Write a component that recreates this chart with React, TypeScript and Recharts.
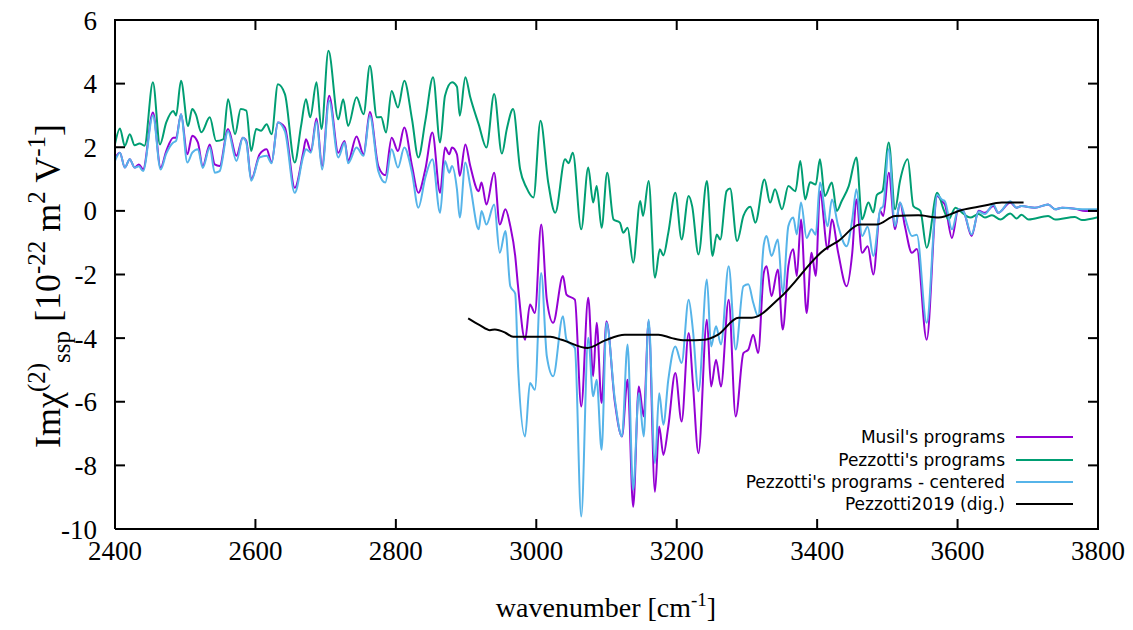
import { LineChart, Line, XAxis, YAxis } from 'recharts';

// Wavenumbers (cm^-1) and Im chi(2)_ssp values
const musilWn = [2400, 2407, 2414, 2421, 2428, 2434, 2440, 2454, 2465, 2473, 2483, 2487, 2494, 2503, 2510, 2518, 2525, 2535, 2542, 2549, 2561, 2573, 2582, 2587, 2594, 2606, 2616, 2623, 2632, 2642, 2656, 2668, 2672, 2679, 2687, 2695, 2705, 2718, 2727, 2732, 2744, 2754, 2763, 2775, 2785, 2794, 2803, 2812, 2823, 2832, 2842, 2852, 2863, 2870, 2876, 2880, 2887, 2891, 2899, 2906, 2918, 2922, 2929, 2940, 2948, 2956, 2963, 2970, 2974, 2984, 2991, 2998, 3007, 3015, 3024, 3038, 3043, 3055, 3064, 3074, 3081, 3086, 3093, 3100, 3112, 3122, 3130, 3138, 3146, 3153, 3160, 3169, 3175, 3181, 3188, 3198, 3207, 3217, 3223, 3231, 3243, 3249, 3256, 3263, 3274, 3284, 3295, 3302, 3309, 3316, 3324, 3328, 3335, 3344, 3351, 3359, 3366, 3371, 3377, 3385, 3392, 3398, 3404, 3415, 3421, 3430, 3442, 3450, 3456, 3464, 3472, 3480, 3490, 3494, 3502, 3511, 3518, 3525, 3535, 3542, 3556, 3571, 3578, 3582, 3592, 3601, 3608, 3620, 3630, 3639, 3651, 3658, 3675, 3684, 3691, 3710, 3729, 3739, 3749, 3767, 3782, 3800];
const musilVal = [1.67, 1.83, 1.36, 1.62, 1.36, 1.46, 1.31, 3.09, 1.36, 1.88, 2.3, 2.3, 3.04, 1.78, 2.36, 2.15, 1.41, 2.09, 1.46, 1.41, 2.57, 1.73, 2.3, 2.2, 0.99, 1.78, 1.94, 1.52, 2.78, 2.62, 0.73, 1.83, 2.25, 1.88, 2.9, 1.41, 3.62, 1.83, 2.2, 1.57, 2.34, 1.78, 3.11, 1.41, 1.12, 2.3, 1.88, 2.62, 1.41, 0.57, 1.31, 2.46, 0.57, 1.99, 1.78, 1.99, 1.78, 1.1, 2.09, 1.41, 0.62, 0.89, 0.2, 1.2, -0.43, 0.05, -0.48, -1.42, -2.37, -4.05, -2.94, -3.21, -0.43, -2.79, -3.52, -2.05, -2.63, -2.79, -6.15, -2.73, -5.2, -3.52, -6.04, -3.47, -6.03, -7.09, -5.31, -9.3, -5.52, -6.46, -3.47, -8.83, -6.78, -7.67, -6.78, -5.1, -6.62, -3.84, -5.41, -7.62, -3.42, -5.52, -4.68, -5.52, -2.79, -6.46, -4.47, -4.36, -3.89, -4.47, -1.95, -1.74, -2.68, -1.84, -3.73, -1.74, -1.21, -2.05, -0.27, -3.21, -1.32, -2.05, 0.62, -1.21, -0.27, -1.32, -2.37, -1.32, 0.36, -1.32, -1.11, -2.0, 0.0, -0.16, 1.2, -0.58, 0.26, -0.48, -1.32, -1.2, -4.05, 0.47, 0.3, 0.2, -0.85, 0.05, 0.0, -0.79, 0.0, -0.06, 0.15, -0.06, 0.26, 0.1, 0.15, 0.1, 0.2, 0.05, 0.1, 0.07, 0.0, 0.0];

const pezWn = [2400, 2407, 2414, 2421, 2428, 2435, 2442, 2454, 2464, 2473, 2483, 2487, 2494, 2504, 2510, 2515, 2523, 2535, 2544, 2554, 2561, 2571, 2579, 2587, 2594, 2601, 2608, 2616, 2623, 2632, 2642, 2656, 2665, 2672, 2678, 2687, 2694, 2704, 2718, 2725, 2732, 2744, 2754, 2763, 2773, 2779, 2786, 2794, 2803, 2812, 2823, 2832, 2842, 2853, 2863, 2870, 2880, 2887, 2891, 2899, 2906, 2918, 2929, 2940, 2951, 2958, 2967, 2977, 2986, 2996, 3006, 3017, 3027, 3041, 3046, 3052, 3064, 3074, 3081, 3086, 3093, 3101, 3110, 3119, 3124, 3130, 3138, 3148, 3152, 3160, 3169, 3176, 3181, 3188, 3198, 3207, 3217, 3222, 3231, 3243, 3251, 3257, 3262, 3271, 3276, 3286, 3295, 3305, 3312, 3325, 3333, 3340, 3350, 3359, 3369, 3376, 3383, 3390, 3398, 3404, 3411, 3421, 3428, 3435, 3445, 3456, 3464, 3473, 3480, 3485, 3493, 3502, 3511, 3518, 3529, 3537, 3547, 3556, 3571, 3580, 3587, 3597, 3606, 3618, 3630, 3639, 3649, 3661, 3675, 3684, 3691, 3701, 3729, 3739, 3767, 3777, 3800];
const pezVal = [2.1, 2.59, 2.04, 2.41, 2.06, 2.12, 2.05, 4.04, 2.09, 2.78, 3.14, 3.0, 4.09, 2.67, 3.2, 3.04, 2.47, 2.94, 2.2, 2.25, 3.51, 2.41, 3.2, 3.15, 1.88, 2.57, 2.52, 2.72, 2.41, 3.98, 3.67, 1.52, 2.67, 3.51, 2.94, 4.04, 2.57, 5.03, 2.88, 3.51, 2.67, 3.57, 3.04, 4.56, 2.94, 2.95, 2.46, 3.77, 3.25, 4.09, 2.88, 1.68, 2.83, 4.2, 2.15, 3.62, 4.04, 3.9, 2.99, 4.2, 3.57, 2.72, 1.99, 3.67, 1.8, 2.57, 3.2, 1.31, 0.73, 0.42, 2.83, 0.89, -0.06, 1.62, 1.5, 1.83, -0.58, 1.36, 0.26, 0.78, -0.53, 1.2, -0.27, -0.37, -0.69, -0.53, -1.63, 0.31, -0.16, 0.94, -2.1, -1.21, -1.4, -0.69, 0.57, -0.9, 0.47, 0.15, -1.37, 0.94, -1.42, -0.74, -0.9, 0.62, 0.7, -0.95, -0.16, 0.13, -0.37, 0.99, 0.26, 0.68, 0.05, 0.78, 0.62, 1.57, 0.36, 0.9, 0.83, 1.62, 0.47, 0.89, 0.0, 0.31, 0.78, 1.68, -0.27, 0.26, -0.05, 0.5, 0.62, 2.15, 0.05, 0.94, 1.62, 0.15, 0.0, -1.16, 0.57, 0.05, -0.27, 0.1, -0.05, -0.21, -0.1, -0.21, -0.14, -0.27, -0.08, -0.24, -0.12, -0.27, -0.16, -0.27, -0.19, -0.29, -0.2];

const centWn = musilWn;
const centVal = [1.57, 1.83, 1.36, 1.62, 1.36, 1.4, 1.25, 3.0, 1.3, 1.8, 2.15, 2.2, 3.04, 1.52, 1.83, 1.94, 1.35, 2.0, 1.2, 1.25, 2.5, 1.57, 2.3, 2.15, 0.95, 1.68, 1.73, 1.5, 2.78, 2.5, 0.57, 1.7, 1.94, 1.83, 2.8, 1.3, 3.46, 1.68, 2.15, 1.5, 1.99, 1.73, 2.99, 1.25, 0.89, 1.94, 1.36, 1.99, 1.2, 0.1, 1.05, 1.62, -0.06, 1.57, 1.2, 1.41, 0.68, -0.21, 1.52, 0.78, -0.58, 0.0, -0.43, 0.2, -1.32, -0.63, -2.37, -2.6, -4.89, -7.09, -5.41, -5.62, -1.95, -4.57, -5.2, -3.31, -4.05, -4.31, -9.61, -3.99, -5.83, -5.31, -7.51, -3.52, -5.94, -7.09, -4.2, -8.77, -5.73, -7.09, -3.42, -7.93, -5.73, -6.72, -5.31, -4.26, -4.78, -2.79, -3.73, -5.67, -2.16, -4.26, -3.63, -4.2, -1.74, -4.36, -2.37, -2.31, -2.89, -3.31, -1.06, -0.79, -1.42, -0.9, -2.58, -0.48, -0.21, -0.74, 0.26, -0.85, -0.58, -0.75, 0.89, -0.48, 0.36, -0.48, -1.11, -0.27, 0.68, -0.79, -0.5, -1.42, 0.05, 0.15, 1.94, -0.48, 0.26, -0.2, -0.79, -0.75, -3.52, 0.5, 0.35, 0.3, -0.58, 0.05, 0.0, -0.74, -0.02, -0.1, 0.2, -0.06, 0.3, 0.1, 0.15, 0.1, 0.2, 0.05, 0.1, 0.07, 0.05, 0.05];

const digWn = [2903, 2920, 2934, 2941, 2956, 2967, 3020, 3036, 3073, 3098, 3126, 3174, 3193, 3212, 3240, 3259, 3288, 3307, 3347, 3411, 3430, 3461, 3485, 3511, 3544, 3573, 3606, 3635, 3663, 3694];
const digVal = [-3.38, -3.6, -3.75, -3.73, -3.83, -3.96, -3.96, -4.05, -4.31, -4.07, -3.89, -3.89, -4.0, -4.07, -4.05, -3.89, -3.36, -3.36, -2.73, -1.21, -0.95, -0.43, -0.43, -0.16, -0.14, -0.21, 0.03, 0.15, 0.26, 0.26];

const xTicks = [2400, 2600, 2800, 3000, 3200, 3400, 3600, 3800];
const yTicks = [-10, -8, -6, -4, -2, 0, 2, 4, 6];

const toPoints = (wn: number[], vals: number[]) => wn.map((x, i) => ({ x, y: vals[i] }));

const series = [
  { name: "Musil's programs", color: '#9400d3', data: toPoints(musilWn, musilVal) },
  { name: "Pezzotti's programs", color: '#009e73', data: toPoints(pezWn, pezVal) },
  { name: "Pezzotti's programs - centered", color: '#56b4e9', data: toPoints(centWn, centVal) },
  { name: 'Pezzotti2019 (dig.)', color: '#000000', data: toPoints(digWn, digVal) },
];

const W = 1133;
const H = 630;
const MARGIN = { top: 20, right: 35, bottom: 0, left: 0 };
const Y_AXIS_W = 115;
const X_AXIS_H = 101;
const PLOT_TOP = MARGIN.top;
const PLOT_RIGHT = W - MARGIN.right;
const PLOT_BOTTOM = H - X_AXIS_H;
const TICK = 10;

const SERIF = '"Liberation Serif", "Times New Roman", serif';
const frame = { stroke: '#000', strokeWidth: 2 };

// bottom tick label + mirrored inward tick on the top border
const XTick = ({ x, y, payload }: any) => (
  <g>
    <text x={x} y={y} dy="0.71em" textAnchor="middle" fontFamily={SERIF} fontSize={27} fill="#000">{payload.value}</text>
    <rect x={x - 1} y={PLOT_TOP} width={2} height={TICK} fill="#000" />
  </g>
);

// left tick label + mirrored inward tick on the right border
const YTick = ({ x, y, payload }: any) => (
  <g>
    <text x={x} y={y} dy="0.355em" textAnchor="end" fontFamily={SERIF} fontSize={27} fill="#000">{payload.value}</text>
    <rect x={PLOT_RIGHT - TICK} y={y - 1} width={TICK} height={2} fill="#000" />
  </g>
);

const XTitle = () => (
  <text x={606} y={617} textAnchor="middle" fontFamily={SERIF} fontSize={28} fill="#000">
    wavenumber [cm
    <tspan dy={-11} fontSize={19}>-1</tspan>
    <tspan dy={11}>]</tspan>
  </text>
);

// y title, plus the top and right border of the frame drawn as filled bars
const YTitle = () => (
  <g>
    <rect x={Y_AXIS_W - 1} y={PLOT_TOP - 1} width={PLOT_RIGHT - Y_AXIS_W + 2} height={2} fill="#000" />
    <rect x={PLOT_RIGHT - 1} y={PLOT_TOP - 1} width={2} height={PLOT_BOTTOM - PLOT_TOP + 2} fill="#000" />
    <text transform="rotate(-90)" x={-286} y={60} textAnchor="middle" fontFamily={SERIF} fontSize={36} fill="#000">
      Imχ
      <tspan dy={-15} fontSize={25}>(2)</tspan>
      <tspan dy={25} fontSize={25}>ssp</tspan>
      <tspan dy={-10}>{' [10'}</tspan>
      <tspan dy={-15} fontSize={25}>-22</tspan>
      <tspan dy={15}>{' m'}</tspan>
      <tspan dy={-15} fontSize={25}>2</tspan>
      <tspan dy={15}>{' V'}</tspan>
      <tspan dy={-15} fontSize={25}>-1</tspan>
      <tspan dy={15}>]</tspan>
    </text>
  </g>
);

export default function App() {
  return (
    <div style={{ position: 'absolute', left: 0, top: 0, width: W, height: H, background: '#fff' }}>
      <LineChart width={W} height={H} margin={MARGIN}>
        <XAxis
          type="number"
          dataKey="x"
          domain={[2400, 3800]}
          ticks={xTicks}
          interval={0}
          allowDataOverflow
          height={X_AXIS_H}
          tickSize={-TICK}
          tickMargin={22}
          tick={<XTick />}
          axisLine={frame}
          tickLine={frame}
          label={<XTitle />}
        />
        <YAxis
          type="number"
          domain={[-10, 6]}
          ticks={yTicks}
          interval={0}
          allowDataOverflow
          width={Y_AXIS_W}
          tickSize={-TICK}
          tickMargin={28}
          tick={<YTick />}
          axisLine={frame}
          tickLine={frame}
          label={<YTitle />}
        />
        {series.map((s) => (
          <Line
            key={s.name}
            data={s.data}
            dataKey="y"
            name={s.name}
            type="monotone"
            stroke={s.color}
            strokeWidth={2}
            dot={false}
            activeDot={false}
            isAnimationActive={false}
          />
        ))}
      </LineChart>
      <div style={{ position: 'absolute', right: 60, top: 426, fontFamily: '"DejaVu Sans", Verdana, sans-serif', fontSize: 17, color: '#000' }}>
        {series.map((s) => (
          <div key={s.name} style={{ display: 'flex', alignItems: 'center', justifyContent: 'flex-end', height: 22.4 }}>
            <span style={{ whiteSpace: 'pre', lineHeight: '22px' }}>{s.name}</span>
            <span style={{ display: 'inline-block', width: 57, height: 0, borderTop: `2px solid ${s.color}`, marginLeft: 11 }} />
          </div>
        ))}
      </div>
    </div>
  );
}
